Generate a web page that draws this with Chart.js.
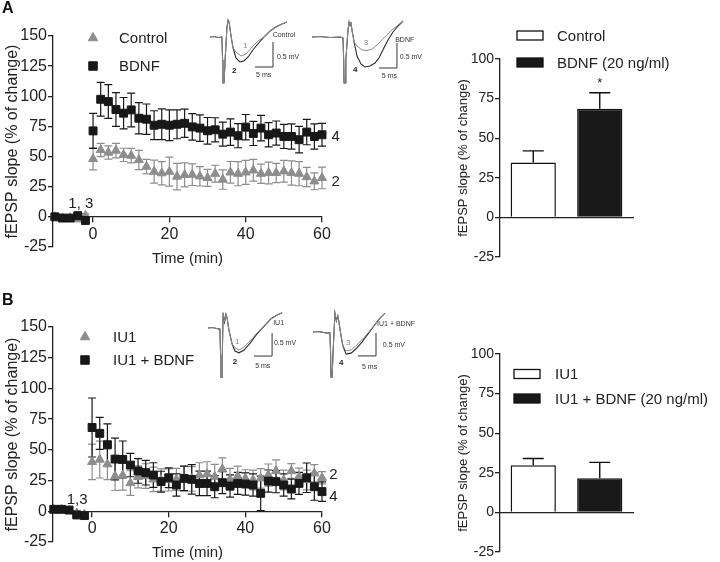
<!DOCTYPE html>
<html><head><meta charset="utf-8">
<script src="https://cdn.jsdelivr.net/npm/chart.js@4.4.1/dist/chart.umd.min.js"></script>
<style>
html,body{margin:0;padding:0;background:#fff;}
#wrap{position:relative;width:720px;height:562px;overflow:hidden;font-family:"Liberation Sans",Arial,sans-serif;}
canvas{position:absolute;}
.lbl{position:absolute;font-weight:bold;font-size:16px;line-height:16px;color:#111;}
</style></head><body>
<div id="wrap">
<canvas id="aL" width="360" height="280" style="left:0;top:0;width:360px;height:280px"></canvas>
<canvas id="aR" width="280" height="280" style="left:440px;top:0;width:280px;height:280px"></canvas>
<canvas id="bL" width="360" height="272" style="left:0;top:290px;width:360px;height:272px"></canvas>
<canvas id="bR" width="280" height="272" style="left:440px;top:290px;width:280px;height:272px"></canvas>
<canvas id="iA1" width="100" height="90" style="left:205px;top:0;width:100px;height:90px"></canvas>
<canvas id="iA2" width="125" height="90" style="left:305px;top:0;width:125px;height:90px"></canvas>
<canvas id="iB1" width="100" height="90" style="left:203px;top:295px;width:100px;height:90px"></canvas>
<canvas id="iB2" width="130" height="90" style="left:308px;top:295px;width:130px;height:90px"></canvas>
<div class="lbl" style="left:2px;top:0px">A</div>
<div class="lbl" style="left:2px;top:292px">B</div>
</div>
<script>
const F = '"Liberation Sans", Arial, Helvetica, sans-serif';
const BLACK = '#181818', GRAY = '#8d8d8d', AXIS = '#222';

// ---------- time course data (min, % change) ----------
const timeMin = [-10,-8,-6,-4,-2,0,2,4,6,8,10,12,14,16,18,20,22,24,26,28,30,32,34,36,38,40,42,44,46,48,50,52,54,56,58,60];
const xTicks = [0,20,40,60];
const yTicksLeft = [-25,0,25,50,75,100,125,150];
const yTicksRight = [-25,0,25,50,75,100];

const controlA     = [0,-1,-1,-2,1, 48,55.5,53.3,55,51.4,50.8,47.2,41.7,37.5,36.2,37.5,33.4,34.8,35,33.6,32.3,35.8,30.9,36.9,35.8,36.9,38.6,35.8,36.4,36.4,37.8,36.4,35.8,33,29.5,32.3];
const controlA_sem = [1.5,1.5,1.5,1.5,1.5, 9,5.5,5.5,6,5.5,6,8,6,9.5,9.6,12,11,10,9,8,7,7,8,9,10,10,9,8,9,8,9,10,10,8,7,9];
const bdnfA        = [0,-1,-1,1,-3, 71.3,97.5,95.6,89,86,88.7,81.8,81,76,76.8,76,76.8,77.6,74.6,73.6,71.4,72.2,68.6,70.3,67.3,74.4,69.2,73.6,68.1,69.5,66.7,66.7,64,70.3,66.7,68.1];
const bdnfA_sem    = [1.5,1.5,1.5,1.5,1.5, 14.5,14,14,14,13,14,13,12.6,12,12.7,12.7,12,11.7,11,11,11,10,10,11,10,10.5,10,10.5,10,10,10,10.5,11,10.5,10.5,9.5];

const iu1B         = [1.5,1.5,0.5,-1.5,-2.5, 40.2,42.1,38.3,28.5,29.3,23,28,28.7,26,25.5,25.5,26,26.5,26.3,29.5,30.3,28.2,34.4,26,28.7,26.8,25.5,26.8,29.5,32.8,25.5,32.8,28.2,25.5,30.9,27.3];
const iu1B_sem     = [2,2,2,2,2, 14.5,15,12.5,11.6,12,10,9,10,10,9,9,9,10,10,10,10,10,9,9,8,7,8,8,9,9,8,6,7,8,7,5];
const iu1BdnfB     = [1.6,1.6,1,-3,-3.5, 68.2,63.4,54.2,42.5,42.2,37.6,32.8,31.4,29.5,24.1,27.3,21.4,26.8,26,22.7,22.7,20,23.3,20.6,22.7,22.2,21.4,14.6,24.6,24.1,21.4,18.1,22.7,27.3,20,16];
const iu1BdnfB_sem = [2,2,2,2,2, 24,13,17,17,15,9.5,10,10,10,8.5,8,9,10,12,10,10,9,9,9,9,9,9,14,9,9,9,8,9,12,11,8];

// ---------- bar data ----------
const barLabelsA = ['Control','BDNF (20 ng/ml)'];
const barA = [34.6, 68.6];
const barA_sem = [7.4, 10.1];
const barLabelsB = ['IU1','IU1 + BDNF (20 ng/ml)'];
const barB = [29.7, 21.5];
const barB_sem = [4.3, 10.1];

// ---------- inset traces (ms, mV) ----------
const a1Front_t = [0,1.1,2.2,3.3,3.5,3.6,3.9,4.2,4.7,5.0,5.3,5.8,6.4];
const a1Front_v = [0,0.01,-0.01,0,-0.46,-0.92,-0.92,-0.46,0.18,0.34,0.30,0.04,-0.22];
const a1T1_t = [7.2,8.6,10,11.7,13.3,15,16.7,18.3,20,21.4];
const a1T1_v = [-0.3,-0.38,-0.34,-0.2,-0.08,0,0.12,0.2,0.26,0.3];
const a1T2_t = [7.2,8.3,9.4,10.6,11.9,13.3,15,16.7,18.3,20,21.4];
const a1T2_v = [-0.42,-0.5,-0.48,-0.4,-0.26,-0.14,0,0.12,0.2,0.26,0.3];

const a2Front_t = [0,2.2,5,7.8,8.6,8.8,8.9,9.2,9.4,10,10.3,10.6,10.8,11.1,11.7];
const a2Front_v = [0,0.01,-0.01,0,-0.02,-0.46,-0.92,-0.92,-0.46,0.14,0.3,0.22,0.3,0.14,-0.1];
const a2T3_t = [12.5,13.9,15.3,16.7,18.1,19.4,20.8,22.2,23.6,25.3];
const a2T3_v = [-0.18,-0.26,-0.27,-0.24,-0.16,-0.06,0.04,0.14,0.22,0.32];
const a2T4_t = [12.5,13.6,14.7,16.1,17.5,18.6,19.7,21.1,22.5,23.9,25.3];
const a2T4_v = [-0.38,-0.54,-0.6,-0.58,-0.52,-0.42,-0.26,-0.06,0.1,0.22,0.32];

const b1Front_t = [0,1.4,2.8,3.3,3.5,3.6,3.9,4.0,4.2,4.6,5.0,5.3,5.8,6.7];
const b1Front_v = [0,0.01,-0.02,-0.02,-0.59,-1.07,-1.07,-0.48,0.33,0.13,0.30,0.22,-0.04,-0.35];
const b1T1_t = [7.5,8.6,10,11.7,13.6,15.6,17.5,19.2,20.6];
const b1T1_v = [-0.43,-0.48,-0.41,-0.28,-0.11,0.05,0.2,0.28,0.33];
const b1T2_t = [7.5,8.6,10,11.7,13.6,15.6,17.5,19.2,20.6];
const b1T2_v = [-0.5,-0.54,-0.48,-0.33,-0.13,0.04,0.2,0.28,0.33];

const b2Front_t = [0,1.4,3.6,4.7,4.9,5.0,5.3,5.6,6.1,6.5,6.9,7.2,7.8,8.3];
const b2Front_v = [0,0.01,-0.02,-0.02,-0.5,-0.98,-0.98,-0.39,0.41,0.24,0.35,0.22,-0.09,-0.3];
const b2T3_t = [9.2,10.6,11.9,13.6,15.3,16.9,18.6,20];
const b2T3_v = [-0.41,-0.39,-0.3,-0.17,-0.02,0.14,0.3,0.41];
const b2T4_t = [9.2,10.6,11.9,13.6,15.3,16.9,18.6,20];
const b2T4_v = [-0.48,-0.46,-0.37,-0.22,-0.04,0.13,0.3,0.41];

// ---------- helpers ----------
const pts = (xs, ys) => xs.map((x, i) => ({x, y: ys[i]}));
const setTicks = arr => s => { s.ticks = arr.map(v => ({value: v})); };

const errorBars = {
  id: 'errorBars',
  beforeDatasetsDraw(chart, args, o) {
    const ctx = chart.ctx, Y = chart.scales.y;
    const metas = chart.getSortedVisibleDatasetMetas();
    for (let k = metas.length - 1; k >= 0; k--) {
      const meta = metas[k], ds = chart.data.datasets[meta.index];
      if (!ds.sem) continue;
      ctx.save();
      ctx.strokeStyle = ds.errColor || ds.borderColor;
      ctx.lineWidth = o.lineWidth || 1.2;
      meta.data.forEach((el, i) => {
        const d = ds.data[i];
        const v = (d !== null && typeof d === 'object') ? d.y : d;
        const s = ds.sem[i];
        if (v == null || s == null) return;
        const x = el.x, w = o.cap;
        const yT = Y.getPixelForValue(v + s);
        const yB = Y.getPixelForValue(o.upOnly ? v : v - s);
        ctx.beginPath();
        ctx.moveTo(x, yT); ctx.lineTo(x, yB);
        ctx.moveTo(x - w, yT); ctx.lineTo(x + w, yT);
        if (!o.upOnly) { ctx.moveTo(x - w, yB); ctx.lineTo(x + w, yB); }
        ctx.stroke();
      });
      ctx.restore();
    }
  }
};

const decor = {
  id: 'decor',
  afterDraw(chart, args, o) {
    const ctx = chart.ctx, a = chart.chartArea, X = chart.scales.x, Y = chart.scales.y;
    ctx.save();
    (o.legend || []).forEach(it => {
      const x = a.left + it.dx, y = a.top + it.dy;
      if (it.box) {
        ctx.fillStyle = it.fill; ctx.strokeStyle = '#111'; ctx.lineWidth = 1.3;
        ctx.fillRect(x, y - 4.5, 26, 9); ctx.strokeRect(x, y - 4.5, 26, 9);
      } else {
        ctx.fillStyle = it.color; ctx.strokeStyle = it.color;
        Chart.helpers.drawPoint(ctx, {pointStyle: it.style, radius: it.r, rotation: 0, borderWidth: 1}, x, y);
      }
      ctx.fillStyle = AXIS; ctx.font = (it.size || 15) + 'px ' + F;
      ctx.textAlign = 'left'; ctx.textBaseline = 'middle';
      ctx.fillText(it.text, x + it.tx, y + 1);
    });
    (o.notes || []).forEach(n => {
      ctx.fillStyle = n.color || AXIS; ctx.font = (n.size || 15) + 'px ' + F;
      ctx.textAlign = 'center'; ctx.textBaseline = 'middle';
      ctx.fillText(n.text, X.getPixelForValue(n.x), Y.getPixelForValue(n.y) + (n.dy || 0));
    });
    if (o.xTitle) {
      ctx.fillStyle = AXIS; ctx.font = '15px ' + F; ctx.textAlign = 'center'; ctx.textBaseline = 'middle';
      ctx.fillText(o.xTitle, (a.left + a.right) / 2, a.bottom + o.xTitleDy);
    }
    ctx.restore();
  }
};

const insetDecor = {
  id: 'insetDecor',
  afterDraw(chart, args, o) {
    const ctx = chart.ctx, X = chart.scales.x, Y = chart.scales.y, b = o.bar;
    ctx.save();
    const x0 = X.getPixelForValue(b.x), y0 = Y.getPixelForValue(b.y);
    const x1 = X.getPixelForValue(b.x - b.dx), y1 = Y.getPixelForValue(b.y + b.dy);
    ctx.strokeStyle = '#333'; ctx.lineWidth = 1;
    ctx.beginPath(); ctx.moveTo(x1, y0); ctx.lineTo(x0, y0); ctx.lineTo(x0, y1); ctx.stroke();
    (o.labels || []).forEach(l => {
      ctx.fillStyle = l.color || '#333';
      ctx.font = (l.bold ? 'bold ' : '') + (l.size || 7) + 'px ' + F;
      ctx.textAlign = l.align || 'left'; ctx.textBaseline = 'middle';
      ctx.fillText(l.text, X.getPixelForValue(l.x), Y.getPixelForValue(l.y));
    });
    ctx.restore();
  }
};

function timeChart(id, o) {
  new Chart(document.getElementById(id), {
    type: 'scatter',
    data: { datasets: [
      { label: o.blackLabel, data: pts(timeMin, o.black), sem: o.blackSem, pointStyle: 'rect', pointRadius: 5.6,
        backgroundColor: BLACK, borderColor: BLACK, borderWidth: 1, errColor: BLACK, order: 0, clip: false },
      { label: o.grayLabel, data: pts(timeMin, o.gray), sem: o.graySem, pointStyle: 'triangle', pointRadius: 5.2,
        backgroundColor: GRAY, borderColor: GRAY, borderWidth: 1, errColor: GRAY, order: 1, clip: false }
    ]},
    options: {
      responsive: false, animation: false, devicePixelRatio: 1,
      layout: { padding: o.padding },
      plugins: {
        legend: {display: false}, tooltip: {enabled: false},
        errorBars: {cap: 4, lineWidth: 1.2},
        decor: o.decor
      },
      scales: {
        x: { type: 'linear', min: o.xmin, max: 60, position: {y: 0},
             afterBuildTicks: setTicks(xTicks),
             grid: {display: true, drawOnChartArea: false, drawTicks: true, tickLength: 5, color: AXIS, lineWidth: 1.3},
             border: {display: true, color: AXIS, width: 1.3},
             ticks: {font: {family: F, size: 16}, color: AXIS, padding: 3, maxRotation: 0, autoSkip: false} },
        y: { type: 'linear', min: -25, max: 150, position: 'left',
             afterBuildTicks: setTicks(yTicksLeft),
             afterFit: s => { s.width = 53; },
             grid: {display: true, drawOnChartArea: false, drawTicks: true, tickLength: 5, color: AXIS, lineWidth: 1.3},
             border: {display: true, color: AXIS, width: 1.3},
             ticks: {font: {family: F, size: 16}, color: AXIS, padding: 1, autoSkip: false},
             title: {display: true, text: 'fEPSP slope (% of change)', font: {family: F, size: 16}, color: AXIS, padding: {top: 3, bottom: 0}} }
      }
    },
    plugins: [errorBars, decor]
  });
}

function barChart(id, o) {
  new Chart(document.getElementById(id), {
    type: 'bar',
    data: { labels: o.labels, datasets: [{
      data: o.values, sem: o.sem, backgroundColor: ['#ffffff', BLACK], borderColor: '#111', borderWidth: 1.5,
      errColor: '#111', barPercentage: 0.68, categoryPercentage: 1 }]},
    options: {
      responsive: false, animation: false, devicePixelRatio: 1,
      layout: { padding: o.padding },
      plugins: {
        legend: {display: false}, tooltip: {enabled: false},
        errorBars: {cap: 10.5, lineWidth: 1.4, upOnly: true},
        decor: o.decor
      },
      scales: {
        x: { type: 'category', position: {y: 0},
             grid: {display: false}, ticks: {display: false},
             border: {display: true, color: AXIS, width: 1.3} },
        y: { type: 'linear', min: -25, max: 100, position: 'left',
             afterBuildTicks: setTicks(yTicksRight),
             afterFit: s => { s.width = 48; },
             grid: {display: true, drawOnChartArea: false, drawTicks: true, tickLength: 5, color: AXIS, lineWidth: 1.3},
             border: {display: true, color: AXIS, width: 1.3},
             ticks: {font: {family: F, size: 14}, color: AXIS, padding: 1, autoSkip: false},
             title: {display: true, text: 'fEPSP slope (% of change)', font: {family: F, size: 13}, color: AXIS, padding: {top: 4, bottom: 0}} }
      }
    },
    plugins: [errorBars, decor]
  });
}

function insetChart(id, o) {
  new Chart(document.getElementById(id), {
    type: 'scatter',
    data: { datasets: [
      { data: pts(o.front_t.concat(o.g_t), o.front_v.concat(o.g_v)), showLine: true, pointRadius: 0, borderColor: '#8a8a8a', borderWidth: 1, tension: 0, clip: false },
      { data: pts(o.front_t.concat(o.k_t), o.front_v.concat(o.k_v)), showLine: true, pointRadius: 0, borderColor: '#2a2a2a', borderWidth: 1.1, tension: 0, clip: false }
    ]},
    options: {
      responsive: false, animation: false, devicePixelRatio: 1,
      layout: {padding: 0},
      plugins: {legend: {display: false}, tooltip: {enabled: false}, insetDecor: o.decor},
      scales: {
        x: {type: 'linear', display: false, min: o.xr[0], max: o.xr[1]},
        y: {type: 'linear', display: false, min: o.yr[0], max: o.yr[1]}
      }
    },
    plugins: [insetDecor]
  });
}

// ---------- panel A ----------
timeChart('aL', {
  black: bdnfA, blackSem: bdnfA_sem, blackLabel: 'BDNF',
  gray: controlA, graySem: controlA_sem, grayLabel: 'Control',
  xmin: -10.5, padding: {top: 36, right: 38, bottom: 33, left: 0},
  decor: {
    legend: [
      {style: 'triangle', r: 5.5, color: GRAY, dx: 40, dy: 2, tx: 26, text: 'Control'},
      {style: 'rect', r: 6, color: BLACK, dx: 40, dy: 30, tx: 26, text: 'BDNF'}
    ],
    notes: [
      {x: -3.2, y: 10.8, text: '1, 3'},
      {x: 63.6, y: 66.3, text: '4'},
      {x: 63.6, y: 29, text: '2'}
    ],
    xTitle: 'Time (min)', xTitleDy: 12
  }
});
barChart('aR', {
  labels: barLabelsA, values: barA, sem: barA_sem,
  padding: {top: 59, right: 87, bottom: 23, left: 12},
  decor: {
    legend: [
      {box: true, fill: '#ffffff', dx: 17, dy: -23.5, tx: 40, text: barLabelsA[0]},
      {box: true, fill: BLACK, dx: 17, dy: 3.5, tx: 40, text: barLabelsA[1]}
    ],
    notes: [{x: 1, y: barA[1] + barA_sem[1], dy: -9, text: '*', size: 13}]
  }
});

// ---------- panel B ----------
timeChart('bL', {
  black: iu1BdnfB, blackSem: iu1BdnfB_sem, blackLabel: 'IU1 + BDNF',
  gray: iu1B, graySem: iu1B_sem, grayLabel: 'IU1',
  xmin: -10.2, padding: {top: 37, right: 38, bottom: 20, left: 0},
  decor: {
    legend: [
      {style: 'triangle', r: 5.5, color: GRAY, dx: 32, dy: 10, tx: 28, text: 'IU1'},
      {style: 'rect', r: 6, color: BLACK, dx: 32, dy: 33, tx: 28, text: 'IU1 + BDNF'}
    ],
    notes: [
      {x: -3.9, y: 9, text: '1,3'},
      {x: 63, y: 29.3, text: '2'},
      {x: 63, y: 11.4, text: '4'}
    ],
    xTitle: 'Time (min)', xTitleDy: 11
  }
});
barChart('bR', {
  labels: barLabelsB, values: barB, sem: barB_sem,
  padding: {top: 64, right: 87, bottom: 10, left: 12},
  decor: {
    legend: [
      {box: true, fill: '#ffffff', dx: 14, dy: 20, tx: 41, text: barLabelsB[0]},
      {box: true, fill: BLACK, dx: 14, dy: 44.5, tx: 41, text: barLabelsB[1]}
    ]
  }
});

// ---------- insets ----------
insetChart('iA1', {
  front_t: a1Front_t, front_v: a1Front_v, g_t: a1T1_t, g_v: a1T1_v, k_t: a1T2_t, k_v: a1T2_v,
  xr: [-1.389, 26.389], yr: [-1.06, 0.74],
  decor: {
    bar: {x: 17.5, y: -0.6, dx: 5, dy: 0.5},
    labels: [
      {x: 17.4, y: 0.04, text: 'Control', size: 7},
      {x: 18.6, y: -0.4, text: '0.5 mV', size: 7},
      {x: 12.8, y: -0.76, text: '5 ms', size: 7},
      {x: 9.2, y: -0.18, text: '1', size: 8, color: '#888'},
      {x: 6.1, y: -0.68, text: '2', size: 8, bold: true, color: '#222'}
    ]
  }
});
insetChart('iA2', {
  front_t: a2Front_t, front_v: a2Front_v, g_t: a2T3_t, g_v: a2T3_v, k_t: a2T4_t, k_v: a2T4_v,
  xr: [-1.944, 32.78], yr: [-1.06, 0.74],
  decor: {
    bar: {x: 23.6, y: -0.62, dx: 5, dy: 0.5},
    labels: [
      {x: 23.1, y: -0.06, text: 'BDNF', size: 7},
      {x: 24.4, y: -0.4, text: '0.5 mV', size: 7},
      {x: 19.4, y: -0.78, text: '5 ms', size: 7},
      {x: 14.4, y: -0.12, text: '3', size: 8, color: '#888'},
      {x: 11.4, y: -0.66, text: '4', size: 8, bold: true, color: '#222'}
    ]
  }
});
insetChart('iB1', {
  front_t: b1Front_t, front_v: b1Front_v, g_t: b1T1_t, g_v: b1T1_v, k_t: b1T2_t, k_v: b1T2_v,
  xr: [-1.389, 26.389], yr: [-1.239, 0.717],
  decor: {
    bar: {x: 17.8, y: -0.61, dx: 5, dy: 0.5},
    labels: [
      {x: 18.1, y: 0.11, text: 'IU1', size: 7},
      {x: 18.3, y: -0.33, text: '0.5 mV', size: 7},
      {x: 13.1, y: -0.83, text: '5 ms', size: 7},
      {x: 7.5, y: -0.3, text: '1', size: 8, color: '#888'},
      {x: 6.9, y: -0.74, text: '2', size: 8, bold: true, color: '#222'}
    ]
  }
});
insetChart('iB2', {
  front_t: b2Front_t, front_v: b2Front_v, g_t: b2T3_t, g_v: b2T3_v, k_t: b2T4_t, k_v: b2T4_v,
  xr: [-1.389, 34.72], yr: [-1.152, 0.804],
  decor: {
    bar: {x: 17.5, y: -0.52, dx: 5, dy: 0.5},
    labels: [
      {x: 17.8, y: 0.17, text: 'IU1 + BDNF', size: 7},
      {x: 19.4, y: -0.28, text: '0.5 mV', size: 7},
      {x: 13.6, y: -0.76, text: '5 ms', size: 7},
      {x: 9.2, y: -0.24, text: '3', size: 8, color: '#888'},
      {x: 7.2, y: -0.67, text: '4', size: 8, bold: true, color: '#222'}
    ]
  }
});
</script>
</body></html>
